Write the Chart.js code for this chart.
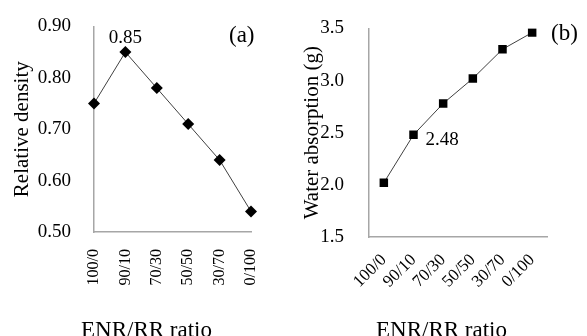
<!DOCTYPE html>
<html lang="en">

<head>
  <meta charset="UTF-8" />
  <title>ENR/RR ratio charts</title>
  <script src="https://cdn.jsdelivr.net/npm/chart.js@4.4.0/dist/chart.umd.min.js"></script>
  <style>
    body {
      margin: 0;
      width: 587px;
      height: 336px;
      overflow: hidden;
      background: #fff;
      position: relative;
      font-family: 'Liberation Serif', 'Times New Roman', serif;
    }

    .panel {
      position: absolute;
      top: 0;
    }

    .txt {
      position: absolute;
      line-height: 1;
      color: #000;
      white-space: nowrap;
    }
  </style>
</head>

<body>
  <div class="panel" style="left:0"><canvas id="densityChart" width="290" height="336"></canvas></div>
  <div class="panel" style="left:290px"><canvas id="waterChart" width="297" height="336"></canvas></div>

  <div class="txt" style="left:229px;top:23px;font-size:23px">(a)</div>
  <div class="txt" style="left:551px;top:21px;font-size:23px">(b)</div>
  <div class="txt" style="left:81px;top:318px;font-size:23px">ENR/RR ratio</div>
  <div class="txt" style="left:376px;top:318px;font-size:23px">ENR/RR ratio</div>

  <script>
    const ratios = ['100/0', '90/10', '70/30', '50/50', '30/70', '0/100'];
    const relativeDensity = [0.75, 0.85, 0.78, 0.71, 0.64, 0.54];
    const waterAbsorption = [2.02, 2.48, 2.78, 3.02, 3.30, 3.46];
    const densityTicks = [0.50, 0.60, 0.70, 0.80, 0.90];
    const waterTicks = [1.5, 2.0, 2.5, 3.0, 3.5];

    const serif = "'Liberation Serif', 'Times New Roman', serif";
    const axisGrey = '#a6a6a6';

    // writes one value next to its point
    const pointLabel = {
      id: 'pointLabel',
      afterDatasetsDraw(chart, args, opts) {
        const pt = chart.getDatasetMeta(0).data[opts.index];
        const val = chart.data.datasets[0].data[opts.index];
        const ctx = chart.ctx;
        ctx.save();
        ctx.font = '19px ' + serif;
        ctx.fillStyle = '#000';
        ctx.textAlign = opts.align;
        ctx.textBaseline = 'middle';
        ctx.fillText(val.toFixed(2), pt.x + opts.dx, pt.y + opts.dy);
        ctx.restore();
      }
    };

    function baseOptions(cfg) {
      return {
        responsive: false,
        animation: false,
        layout: { padding: cfg.padding },
        plugins: {
          legend: { display: false },
          tooltip: { enabled: false },
          pointLabel: cfg.label
        },
        scales: {
          x: {
            offset: cfg.offset,
            grid: { display: false },
            border: { color: axisGrey, width: 1.5 },
            ticks: {
              color: '#000',
              autoSkip: false,
              minRotation: cfg.rot,
              maxRotation: cfg.rot,
              padding: cfg.xPad,
              font: { family: serif, size: cfg.xSize }
            },
            afterFit(s) { s.height = cfg.xHeight; }
          },
          y: {
            min: cfg.ticks[0],
            max: cfg.ticks[cfg.ticks.length - 1],
            afterBuildTicks(s) { s.ticks = cfg.ticks.map(v => ({ value: v })); },
            grid: { display: false },
            border: { color: axisGrey, width: 1.5 },
            ticks: {
              color: '#000',
              padding: cfg.yPad,
              font: { family: serif, size: 19 },
              callback: v => v.toFixed(cfg.digits)
            },
            title: {
              display: true,
              text: cfg.title,
              color: '#000',
              padding: 0,
              font: { family: serif, size: 21 }
            },
            afterFit(s) { s.width = cfg.yWidth; }
          }
        }
      };
    }

    new Chart(document.getElementById('densityChart'), {
      type: 'line',
      data: {
        labels: ratios,
        datasets: [{
          data: relativeDensity,
          borderColor: '#404040',
          borderWidth: 1,
          pointStyle: 'rectRot',
          pointRadius: 6,
          pointBackgroundColor: '#000',
          pointBorderColor: '#000',
          pointBorderWidth: 0
        }]
      },
      options: baseOptions({
        padding: { left: 10, top: 20, right: 39, bottom: 0 },
        offset: false, rot: 90, xPad: 9, xSize: 16, xHeight: 104,
        yPad: 15, yWidth: 84, digits: 2,
        ticks: densityTicks, title: 'Relative density',
        label: { index: 1, dx: 0, dy: -14, align: 'center' }
      }),
      plugins: [pointLabel]
    });

    new Chart(document.getElementById('waterChart'), {
      type: 'line',
      data: {
        labels: ratios,
        datasets: [{
          data: waterAbsorption,
          borderColor: '#404040',
          borderWidth: 1,
          pointStyle: 'rect',
          pointRadius: 6,
          pointBackgroundColor: '#000',
          pointBorderColor: '#000',
          pointBorderWidth: 0
        }]
      },
      options: baseOptions({
        padding: { left: 10, top: 25, right: 40, bottom: 0 },
        offset: true, rot: 45, xPad: 5, xSize: 17, xHeight: 99,
        yPad: 17, yWidth: 69, digits: 1,
        ticks: waterTicks, title: 'Water absorption (g)',
        label: { index: 1, dx: 12, dy: 5, align: 'left' }
      }),
      plugins: [pointLabel]
    });
  </script>
</body>

</html>
